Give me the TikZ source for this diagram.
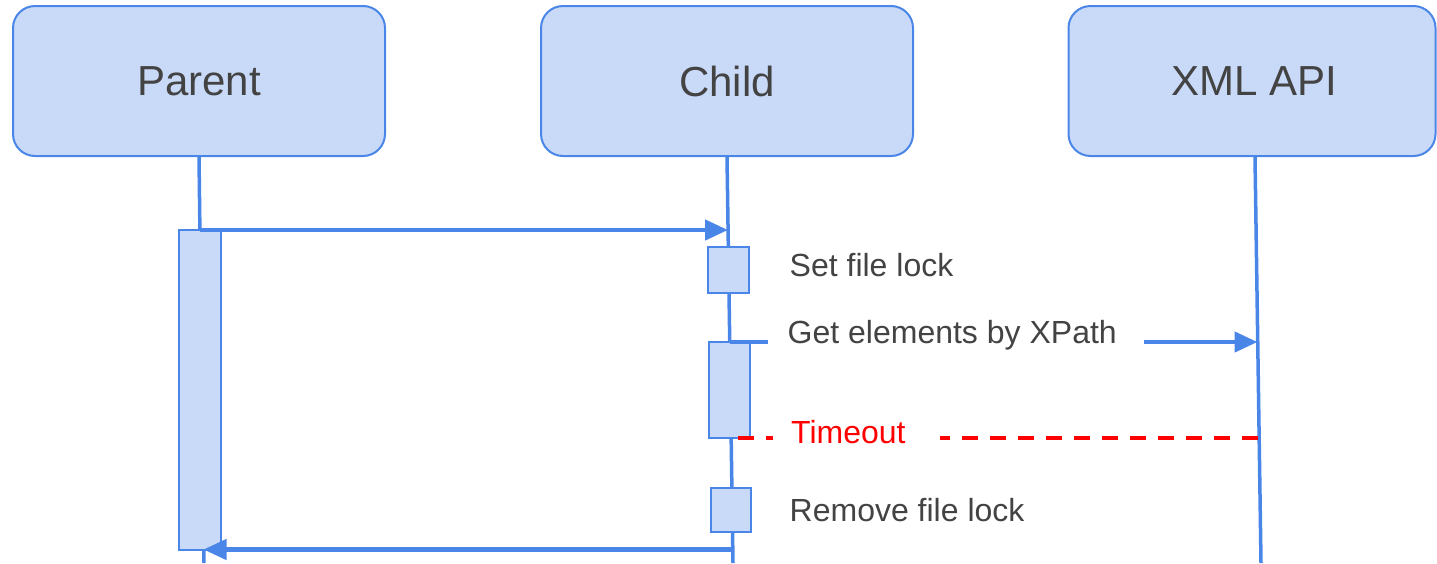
\documentclass[tikz,border=0pt]{standalone}
\usepackage{fontspec}
\setmainfont{Liberation Sans}
\usetikzlibrary{arrows.meta}
\definecolor{bfill}{HTML}{C9DAF8}
\definecolor{bline}{HTML}{4A86E8}
\definecolor{txt}{HTML}{434343}
\definecolor{redline}{HTML}{FF0000}
\begin{document}
\begin{tikzpicture}[x=1pt,y=-1pt,
  actor/.style={draw=bline, fill=bfill, line width=2pt, rounded corners=22pt,
    minimum width=372pt, minimum height=150pt, inner sep=0pt, text=txt,
    font=\fontsize{42}{50}\selectfont},
  lifeline/.style={draw=bline, line width=3.5pt},
  actbox/.style={draw=bline, fill=bfill, line width=2pt, inner sep=0pt},
  msg/.style={draw=bline, line width=4.5pt, -{Triangle[length=23pt,width=20pt]}},
  lbl/.style={text=txt, font=\fontsize{32}{38}\selectfont, inner sep=0pt, anchor=base west},
  timeout/.style={draw=redline, line width=4pt, dash pattern=on 16pt off 12pt},
]
\useasboundingbox (0,0) rectangle (1437,563);

% actors
\node[actor] (P) at (199,81) {Parent};
\node[actor] (C) at (727,81) {Child};
\node[actor, minimum width=367pt] (X) at (1252,81) {\hspace*{4pt}XML API};

% lifeline ends
\coordinate (Xtop) at (1255,157);
\coordinate (Pend) at (204,563);
\coordinate (Cend) at (733,563);
\coordinate (Xend) at (1261,563);

\draw[lifeline] (P.south) -- (Pend);
\draw[lifeline] (C.south) -- (Cend);
\draw[lifeline] (Xtop) -- (Xend);

% activation boxes
\node[actbox, minimum width=42pt, minimum height=320pt] (pa) at (200,390) {};
\node[actbox, minimum width=41pt, minimum height=46pt] (a1) at (728.5,270) {};
\node[actbox, minimum width=41pt, minimum height=96pt] (a2) at (729.5,390) {};
\node[actbox, minimum width=40pt, minimum height=44pt] (a3) at (731,510) {};

% message points on lifelines
\coordinate (p230) at (200,230);
\coordinate (c230) at (728,230);
\coordinate (c342) at (729.5,342);
\coordinate (x342) at (1257.5,342);
\coordinate (t0) at (738,437.5);
\coordinate (x437) at (1259,437.5);
\coordinate (c550) at (733,549.5);
\coordinate (p550) at (203.5,549.5);

% messages
\draw[msg] (p230) -- (c230);
\draw[msg] (c342) -- (x342);
\draw[timeout] (t0) -- (x437);
\draw[msg] (c550) -- (p550);

% label backgrounds
\fill[white] (768,322) rectangle (1144,362);
\fill[white] (773,420) rectangle (939.5,452);

% labels
\node[lbl] (l1) at (789.5,276) {Set file lock};
\node[lbl] (l2) at (787.5,343) {Get elements by XPath};
\node[lbl, text=redline] (l3) at (791,443.5) {Timeout};
\node[lbl] (l4) at (789.5,521) {Remove file lock};
\end{tikzpicture}
\end{document}
